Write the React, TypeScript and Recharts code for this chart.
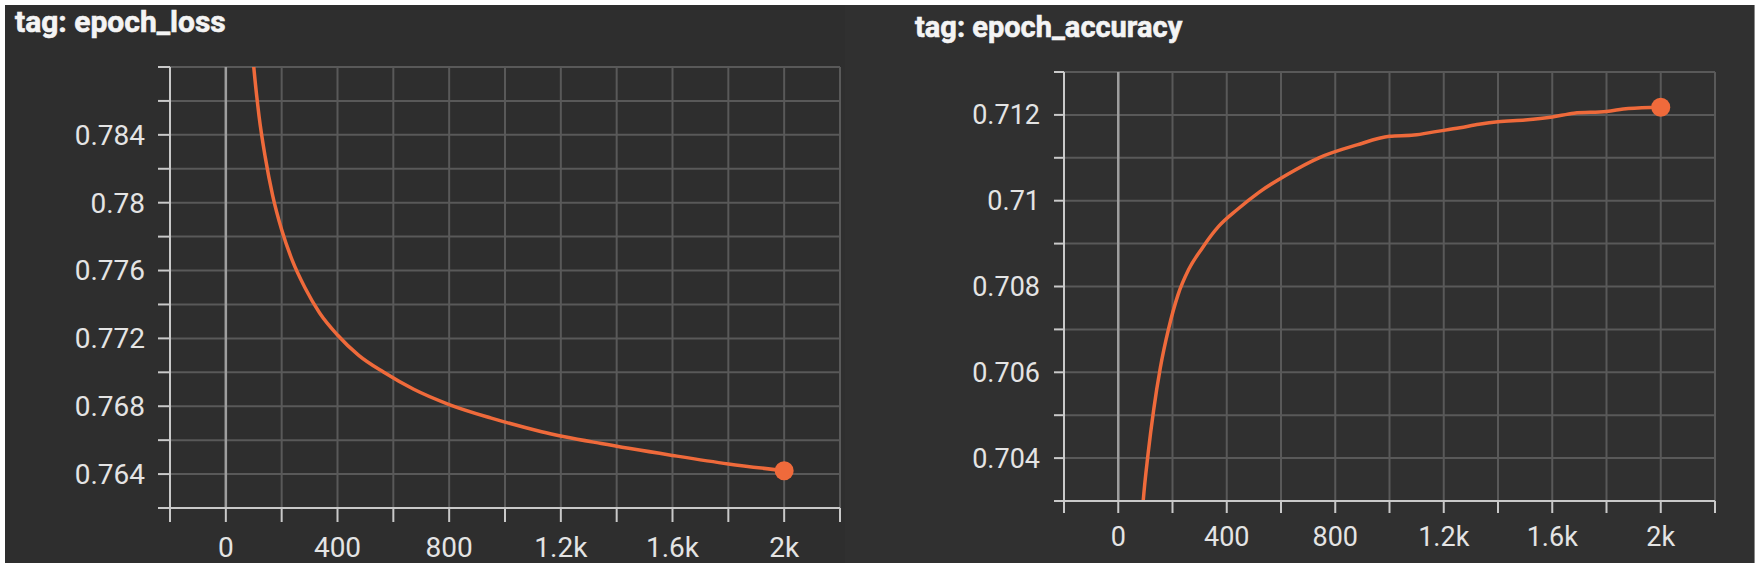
import React from "react";
import { LineChart, Line, XAxis, YAxis, CartesianGrid, ReferenceLine } from "recharts";

// values
const LOSS_STEPS = [0, 30, 60, 84, 100, 119, 141, 168, 200, 238, 283, 336, 400, 476, 566, 673, 800, 951, 1131, 1345, 1600, 1800, 2000];
const LOSS_VALUES = [0.83, 0.812, 0.7965, 0.791, 0.788, 0.7851, 0.7827, 0.7804, 0.7784, 0.7766, 0.775, 0.7735, 0.7722, 0.771, 0.77, 0.769, 0.7681, 0.7673, 0.7665, 0.7658, 0.7651, 0.7646, 0.7642];

const ACC_STEPS = [0, 40, 70, 92, 110, 130, 155, 185, 220, 260, 310, 370, 440, 520, 620, 740, 880, 1000, 1090, 1170, 1260, 1330, 1400, 1500, 1600, 1680, 1800, 1880, 2000];
const ACC_VALUES = [0.692, 0.6975, 0.7008, 0.703, 0.7041, 0.7051, 0.7061, 0.707, 0.7078, 0.7084, 0.7089, 0.7094, 0.7098, 0.7102, 0.7106, 0.711, 0.7113, 0.7115, 0.71153, 0.71161, 0.7117, 0.71178, 0.71184, 0.71188, 0.71195, 0.71204, 0.71208, 0.71215, 0.71218];

const STEP_TICKS = [-200, 0, 200, 400, 600, 800, 1000, 1200, 1400, 1600, 1800, 2000, 2200];
const STEP_LABELS = [0, 400, 800, 1200, 1600, 2000];

const LOSS_TICKS = [0.762, 0.764, 0.766, 0.768, 0.77, 0.772, 0.774, 0.776, 0.778, 0.78, 0.782, 0.784, 0.786, 0.788];
const LOSS_LABELS = [0.764, 0.768, 0.772, 0.776, 0.78, 0.784];

const ACC_TICKS = [0.703, 0.704, 0.705, 0.706, 0.707, 0.708, 0.709, 0.71, 0.711, 0.712, 0.713];
const ACC_LABELS = [0.704, 0.706, 0.708, 0.71, 0.712];

const C = {
  page: "#ffffff",
  panel: "#2e2e2e",
  panelRight: "#303030",
  grid: "#595959",
  axis: "#c9c9c9",
  zero: "#9e9e9e",
  text: "#e4e4e4",
  title: "#f4f4f4",
  line: "#ef6a3b",
};

const FONT = "Roboto, 'Noto Sans', sans-serif";

const near = (list: number[], v: number) => list.some((l) => Math.abs(l - v) < 1e-9);
const fmtStep = (v: number) => (v >= 1000 ? `${v / 1000}k` : String(v));

interface PanelProps {
  left: number;
  steps: number[];
  values: number[];
  yTicks: number[];
  yLabels: number[];
  margin: { top: number; right: number; bottom: number; left: number };
  yAxisWidth: number;
  xAxisHeight: number;
  yTickSize: number;
  yTickMargin: number;
  xTickSize: number;
  xTickMargin: number;
  fontSize: number;
}

function ScalarPanel(p: PanelProps) {
  const data = p.steps.map((s, i) => ({ step: s, value: p.values[i] }));
  const last = data.length - 1;

  const xTick = (props: any) => {
    const { x, y, payload } = props;
    if (!STEP_LABELS.includes(payload.value)) return <g />;
    return (
      <text x={x} y={y} dy="0.71em" textAnchor="middle" fill={C.text} fontSize={p.fontSize} fontFamily={FONT}>
        {fmtStep(payload.value)}
      </text>
    );
  };

  const yTick = (props: any) => {
    const { x, y, payload } = props;
    if (!near(p.yLabels, payload.value)) return <g />;
    return (
      <text x={x} y={y} dy="0.355em" textAnchor="end" fill={C.text} fontSize={p.fontSize} fontFamily={FONT}>
        {String(payload.value)}
      </text>
    );
  };

  const lastDot = (props: any) => {
    if (props.index !== last) return <g key={`d${props.index}`} />;
    return <circle key="end" cx={props.cx} cy={props.cy} r={9.5} fill={C.line} />;
  };

  return (
    <div style={{ position: "absolute", left: p.left, top: 0 }}>
      <LineChart width={880} height={569} data={data} margin={p.margin}>
        <CartesianGrid stroke={C.grid} strokeWidth={2} />
        <XAxis
          dataKey="step"
          type="number"
          domain={[-200, 2200]}
          ticks={STEP_TICKS}
          interval={0}
          height={p.xAxisHeight}
          tick={xTick}
          tickSize={p.xTickSize}
          tickMargin={p.xTickMargin}
          axisLine={{ stroke: C.axis, strokeWidth: 2 }}
          tickLine={{ stroke: C.axis, strokeWidth: 2 }}
        />
        <YAxis
          type="number"
          domain={[p.yTicks[0], p.yTicks[p.yTicks.length - 1]]}
          ticks={p.yTicks}
          interval={0}
          allowDataOverflow
          width={p.yAxisWidth}
          tick={yTick}
          tickSize={p.yTickSize}
          tickMargin={p.yTickMargin}
          axisLine={{ stroke: C.axis, strokeWidth: 2 }}
          tickLine={{ stroke: C.axis, strokeWidth: 2 }}
        />
        <ReferenceLine x={0} stroke={C.zero} strokeWidth={2.5} />
        <Line
          type="monotone"
          dataKey="value"
          stroke={C.line}
          strokeWidth={3.5}
          dot={lastDot}
          activeDot={false}
          isAnimationActive={false}
        />
      </LineChart>
    </div>
  );
}

export default function App() {
  return (
    <div style={{ position: "absolute", left: 0, top: 0, width: 1760, height: 569, background: C.page, overflow: "hidden" }}>
      <div style={{ position: "absolute", left: 5, top: 5, width: 840, height: 558, background: C.panel }} />
      <div style={{ position: "absolute", left: 845, top: 5, width: 909, height: 558, background: C.panelRight, borderRight: "1px solid #8a8a8a" }} />

      <svg width={1760} height={569} style={{ position: "absolute", left: 0, top: 0 }}>
        <text x={15} y={32} fill={C.title} stroke={C.title} strokeWidth={0.6} fontSize={30} fontWeight={700} fontFamily={FONT}>
          tag: epoch_loss
        </text>
        <text x={915} y={37} fill={C.title} stroke={C.title} strokeWidth={0.6} fontSize={29} fontWeight={700} fontFamily={FONT}>
          tag: epoch_accuracy
        </text>
      </svg>

      <ScalarPanel
        left={0}
        steps={LOSS_STEPS}
        values={LOSS_VALUES}
        yTicks={LOSS_TICKS}
        yLabels={LOSS_LABELS}
        margin={{ top: 67, right: 40, bottom: 0, left: 0 }}
        yAxisWidth={170}
        xAxisHeight={61}
        yTickSize={12}
        yTickMargin={13}
        xTickSize={14}
        xTickMargin={15}
        fontSize={28}
      />
      <ScalarPanel
        left={880}
        steps={ACC_STEPS}
        values={ACC_VALUES}
        yTicks={ACC_TICKS}
        yLabels={ACC_LABELS}
        margin={{ top: 72, right: 45, bottom: 0, left: 0 }}
        yAxisWidth={184}
        xAxisHeight={68}
        yTickSize={10}
        yTickMargin={14}
        xTickSize={12}
        xTickMargin={14}
        fontSize={27}
      />
    </div>
  );
}
